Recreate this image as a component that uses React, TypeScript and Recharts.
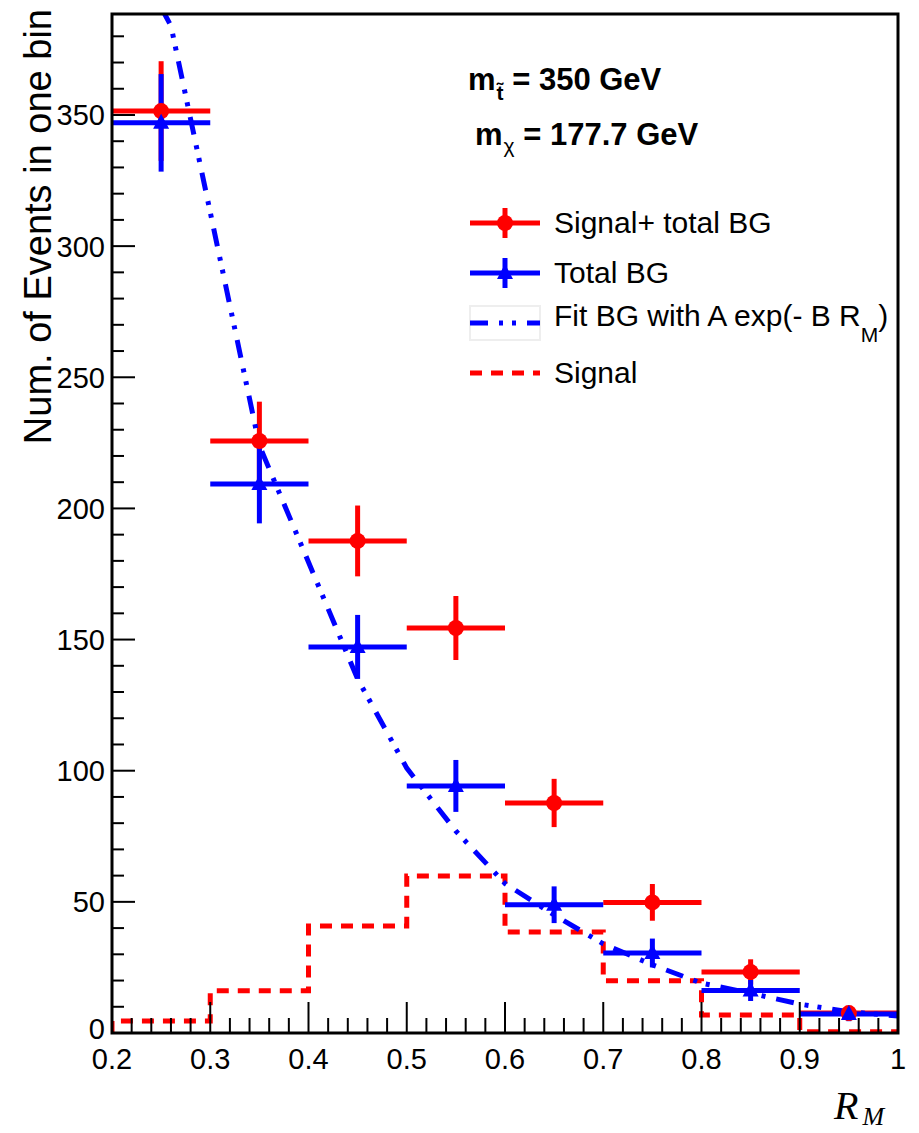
import { ComposedChart, ErrorBar, Legend, Line, Scatter, XAxis, YAxis } from 'recharts';

// bins of R_M
const binCenters = [0.25, 0.35, 0.45, 0.55, 0.65, 0.75, 0.85, 0.95];
const binEdges = [0.2, 0.3, 0.4, 0.5, 0.6, 0.7, 0.8, 0.9, 1.0];
const binHalfWidth = 0.05;

// Signal + total BG (red circles)
const sigPlusBg = [351.5, 225.7, 187.6, 154.4, 87.7, 49.8, 23.3, 7.6];
const sigPlusBgErr = [19, 15, 13.5, 12.2, 9.2, 7, 4.8, 2.8];

// Total BG (blue triangles)
const totalBg = [347, 209.3, 147.2, 94.2, 48.9, 30.5, 16.2, 7.2];
const totalBgErr = [18.6, 15, 12.2, 9.9, 7, 5.5, 4, 2.7];

// Signal histogram (red dashed)
const signal = [4.6, 16.1, 40.8, 59.9, 38.5, 19.9, 6.9, 0.5];

// Fit BG with A exp(-B R_M)
const fitX = [0.25, 0.26, 0.35, 0.45, 0.5, 0.55, 0.6, 0.65, 0.7, 0.75, 0.8, 0.85, 0.9, 0.95, 1.0];
const fitY = [391, 384, 224, 135, 101, 77, 57, 45, 34, 26, 19, 15.2, 11, 8.1, 6.5];

// axes
const xMajor = [0.2, 0.3, 0.4, 0.5, 0.6, 0.7, 0.8, 0.9, 1.0];
const xTickLabels = ['0.2', '0.3', '0.4', '0.5', '0.6', '0.7', '0.8', '0.9', '1'];
const yMajor = [0, 50, 100, 150, 200, 250, 300, 350];
const yMax = 388.5;

const xTicks: number[] = [];
xMajor.forEach((v, i) => {
  xTicks.push(v);
  if (i < xMajor.length - 1) for (let k = 1; k < 5; k++) xTicks.push(+(v + k * 0.02).toFixed(3));
});
const yTicks: number[] = [];
yMajor.forEach((v) => {
  for (let k = 0; k < 5; k++) if (v + k * 10 <= yMax) yTicks.push(v + k * 10);
});

const redData = binCenters.map((x, i) => ({ x, y: sigPlusBg[i], ex: binHalfWidth, ey: sigPlusBgErr[i] }));
const blueData = binCenters.map((x, i) => ({ x, y: totalBg[i], ex: binHalfWidth, ey: totalBgErr[i] }));
const signalData = [
  { x: binEdges[0], y: 0 },
  ...signal.map((y, i) => ({ x: binEdges[i], y })),
  { x: binEdges[binEdges.length - 1], y: signal[signal.length - 1] },
];
const fitData = fitX.map((x, i) => ({ x, y: fitY[i] }));

const RED = '#ff0000';
const BLUE = '#0000ff';
const SANS = '"Liberation Sans", Arial, Helvetica, sans-serif';
const FIT_DASH = '18 11 4 9 4 11';
const SIG_DASH = '12 9';

const YTick = (props: any) => {
  const { x, y, payload } = props;
  const v = payload.value;
  const major = yMajor.includes(v);
  return (
    <g>
      <line x1={x} x2={x + (major ? 23 : 12)} y1={y} y2={y} stroke="#000" strokeWidth={2} />
      {major && (
        <text x={x - 7} y={y} dy={v === 0 ? '0.22em' : '0.36em'} textAnchor="end" fontSize={29} fontFamily={SANS} fill="#000">
          {v}
        </text>
      )}
    </g>
  );
};

const XTick = (props: any) => {
  const { x, y, payload } = props;
  const v = payload.value;
  const idx = xMajor.findIndex((m) => Math.abs(m - v) < 1e-6);
  const major = idx >= 0;
  return (
    <g>
      <line x1={x} x2={x} y1={y} y2={y - (major ? 31 : 15)} stroke="#000" strokeWidth={2} />
      {major && (
        <text x={x} y={y + 36} textAnchor="middle" fontSize={29} fontFamily={SANS} fill="#000">
          {xTickLabels[idx]}
        </text>
      )}
    </g>
  );
};

const Circle = (props: any) => <circle cx={props.cx} cy={props.cy} r={8} fill={RED} />;
const Triangle = (props: any) => {
  const { cx, cy } = props;
  return <polygon points={`${cx},${cy - 9} ${cx - 8},${cy + 6} ${cx + 8},${cy + 6}`} fill={BLUE} />;
};

const legendItems = [
  { label: 'Signal+ total BG', kind: 'red' },
  { label: 'Total BG', kind: 'blue' },
  { label: 'Fit BG with A exp(- B R', sub: 'M', tail: ')', kind: 'fit' },
  { label: 'Signal', kind: 'signal' },
];

const LegendIcon = ({ kind }: { kind: string }) => (
  <svg width={88} height={50} style={{ display: 'block' }}>
    {kind === 'red' && (
      <g>
        <line x1={4} x2={74} y1={25} y2={25} stroke={RED} strokeWidth={5} />
        <line x1={39} x2={39} y1={10} y2={40} stroke={RED} strokeWidth={5} />
        <circle cx={39} cy={25} r={8} fill={RED} />
      </g>
    )}
    {kind === 'blue' && (
      <g>
        <line x1={4} x2={74} y1={25} y2={25} stroke={BLUE} strokeWidth={5} />
        <line x1={39} x2={39} y1={10} y2={40} stroke={BLUE} strokeWidth={5} />
        <polygon points="39,16 31,31 47,31" fill={BLUE} />
      </g>
    )}
    {kind === 'fit' && (
      <g>
        <rect x={4} y={8} width={70} height={34} fill="none" stroke="#eeeeee" strokeWidth={2} />
        <line x1={4} x2={74} y1={25} y2={25} stroke={BLUE} strokeWidth={5} strokeDasharray={FIT_DASH} />
      </g>
    )}
    {kind === 'signal' && (
      <line x1={4} x2={74} y1={25} y2={25} stroke={RED} strokeWidth={5} strokeDasharray={SIG_DASH} />
    )}
  </svg>
);

const renderLegend = () => (
  <div style={{ fontFamily: SANS, fontSize: 30, color: '#000' }}>
    {legendItems.map((it) => (
      <div key={it.label} style={{ display: 'flex', alignItems: 'center', height: 50, whiteSpace: 'nowrap' }}>
        <LegendIcon kind={it.kind} />
        <span>
          {it.label}
          {it.sub && <sub style={{ fontSize: 21, verticalAlign: -16 }}>{it.sub}</sub>}
          {it.tail}
        </span>
      </div>
    ))}
  </div>
);

export default function App() {
  return (
    <div style={{ position: 'absolute', left: 0, top: 0, width: 919, height: 1133, background: '#fff' }}>
      <ComposedChart width={919} height={1133} margin={{ top: 14, right: 21, bottom: 0, left: 0 }}>
        <XAxis
          dataKey="x"
          type="number"
          domain={[0.2, 1]}
          allowDataOverflow
          ticks={xTicks}
          interval={0}
          tick={<XTick />}
          tickLine={false}
          tickSize={0}
          tickMargin={0}
          axisLine={false}
          height={100}
        />
        <YAxis
          dataKey="y"
          type="number"
          domain={[0, yMax]}
          allowDataOverflow
          ticks={yTicks}
          interval={0}
          tick={<YTick />}
          tickLine={false}
          tickSize={0}
          tickMargin={0}
          axisLine={false}
          width={112}
        />
        <Line
          data={signalData}
          dataKey="y"
          type="stepAfter"
          stroke={RED}
          strokeWidth={5}
          strokeDasharray={SIG_DASH}
          dot={false}
          activeDot={false}
          isAnimationActive={false}
        />
        <Scatter data={redData} fill={RED} shape={<Circle />} isAnimationActive={false}>
          <ErrorBar dataKey="ex" direction="x" width={0} stroke={RED} strokeWidth={5} />
          <ErrorBar dataKey="ey" direction="y" width={0} stroke={RED} strokeWidth={5} />
        </Scatter>
        <Scatter data={blueData} fill={BLUE} shape={<Triangle />} isAnimationActive={false}>
          <ErrorBar dataKey="ex" direction="x" width={0} stroke={BLUE} strokeWidth={5} />
          <ErrorBar dataKey="ey" direction="y" width={0} stroke={BLUE} strokeWidth={5} />
        </Scatter>
        <Line
          data={fitData}
          dataKey="y"
          type="linear"
          stroke={BLUE}
          strokeWidth={5}
          strokeDasharray={FIT_DASH}
          dot={false}
          activeDot={false}
          isAnimationActive={false}
        />
        <Legend
          layout="vertical"
          align="center"
          verticalAlign="middle"
          content={renderLegend}
          wrapperStyle={{ position: 'absolute', left: 466, top: 198, width: 450, height: 200 }}
        />
      </ComposedChart>
      <svg
        width={919}
        height={1133}
        style={{ position: 'absolute', left: 0, top: 0, pointerEvents: 'none' }}
      >
        <rect x={112} y={14} width={786} height={1019} fill="none" stroke="#000" strokeWidth={3} />
        <text x={468} y={90} fontFamily={SANS} fontSize={31} fontWeight="bold" fill="#000">
          m
          <tspan fontSize={21} dx={1} dy={10}>t̃</tspan>
          <tspan dy={-10}> = 350 GeV</tspan>
        </text>
        <text x={475} y={145} fontFamily={SANS} fontSize={31} fontWeight="bold" fill="#000">
          m
          <tspan fontSize={21} fontWeight="normal" dx={1} dy={8}>χ</tspan>
          <tspan dy={-8}> = 177.7 GeV</tspan>
        </text>
        <text
          transform="translate(51,9) rotate(-90)"
          textAnchor="end"
          fontFamily={SANS}
          fontSize={38}
          fill="#000"
        >
          Num. of Events in one bin
        </text>
        <text x={834} y={1119} fontFamily='"Liberation Serif", "Times New Roman", serif' fontStyle="italic" fontSize={40} fill="#000">
          R
          <tspan fontSize={26} dx={4} dy={6}>M</tspan>
        </text>
      </svg>
    </div>
  );
}
